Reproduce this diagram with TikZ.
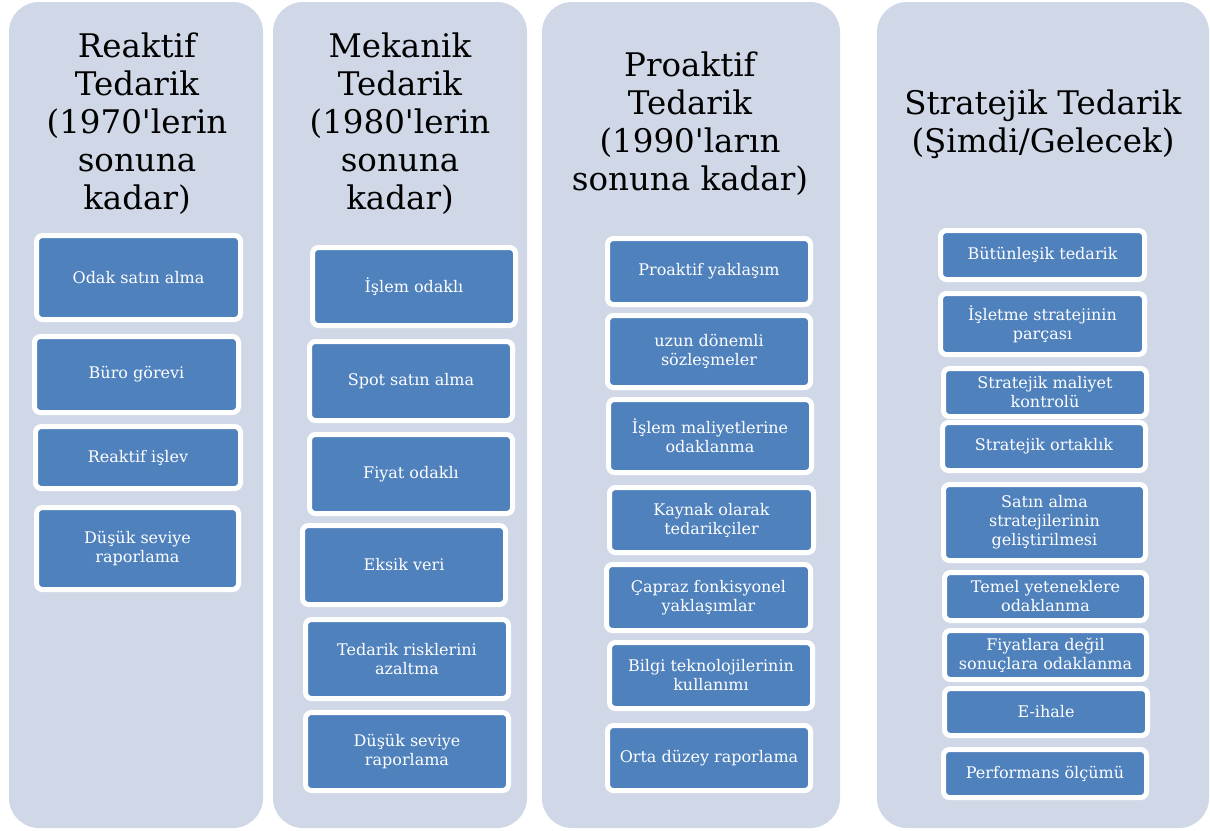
\documentclass[tikz,border=0pt]{standalone}
\usepackage{fontspec}
\setmainfont{DejaVu Serif}
\definecolor{colbg}{HTML}{D0D8E8}
\definecolor{itemblue}{HTML}{4F81BD}
\begin{document}
\begin{tikzpicture}[x=1pt, y=-1pt,
    column/.style={fill=colbg, rounded corners=30pt},
    heading/.style={align=center, text=black, font=\fontsize{32.5}{38}\selectfont},
    item/.style={fill=itemblue, draw=white, line width=5pt, rounded corners=6pt,
        inner sep=0pt, align=center, text=white, font=\fontsize{16}{19}\selectfont}]
    \useasboundingbox (0,0) rectangle (1210,830);
    % background columns
    \fill[column] (9,2) rectangle (263,828);
    \fill[column] (273,2) rectangle (527,828);
    \fill[column] (542,2) rectangle (840,828);
    \fill[column] (877,2) rectangle (1209,828);
    % headings
    \node at (137,124) (h1) [heading] {Reaktif\\Tedarik\\(1970\textquotesingle lerin\\sonuna\\kadar)};
    \node at (400,124) (h2) [heading] {Mekanik\\Tedarik\\(1980\textquotesingle lerin\\sonuna\\kadar)};
    \node at (690,124) (h3) [heading] {Proaktif\\Tedarik\\(1990\textquotesingle ların\\sonuna kadar)};
    \node at (1043,124) (h4) [heading] {Stratejik Tedarik\\(Şimdi/Gelecek)};
    % first column
    \node at (138.5,277.5) (a1) [item, minimum width=204pt, minimum height=84pt] {Odak satın alma};
    \node at (136.5,374.5) (a2) [item, minimum width=204pt, minimum height=76pt] {Büro görevi};
    \node at (138,457.5) (a3) [item, minimum width=205pt, minimum height=62pt] {Reaktif işlev};
    \node at (137.5,548.5) (a4) [item, minimum width=202pt, minimum height=82pt] {Düşük seviye\\raporlama};
    % second column
    \node at (414,286.5) (b1) [item, minimum width=203pt, minimum height=78pt] {İşlem odaklı};
    \node at (411,381) (b2) [item, minimum width=203pt, minimum height=79pt] {Spot satın alma};
    \node at (411,474) (b3) [item, minimum width=203pt, minimum height=79pt] {Fiyat odaklı};
    \node at (404,565) (b4) [item, minimum width=203pt, minimum height=79pt] {Eksik veri};
    \node at (407,659) (b5) [item, minimum width=203pt, minimum height=79pt] {Tedarik risklerini\\azaltma};
    \node at (407,751.5) (b6) [item, minimum width=203pt, minimum height=78pt] {Düşük seviye\\raporlama};
    % third column
    \node at (709,271.5) (c1) [item, minimum width=203pt, minimum height=66pt] {Proaktif yaklaşım};
    \node at (709,351.5) (c2) [item, minimum width=203pt, minimum height=72pt] {uzun dönemli\\sözleşmeler};
    \node at (710,436) (c3) [item, minimum width=203pt, minimum height=73pt] {İşlem maliyetlerine\\odaklanma};
    \node at (711.5,520) (c4) [item, minimum width=204pt, minimum height=65pt] {Kaynak olarak\\tedarikçiler};
    \node at (708.5,597.5) (c5) [item, minimum width=204pt, minimum height=66pt] {Çapraz fonkisyonel\\yaklaşımlar};
    \node at (711,675.5) (c6) [item, minimum width=203pt, minimum height=66pt] {Bilgi teknolojilerinin\\kullanımı};
    \node at (709,758) (c7) [item, minimum width=203pt, minimum height=65pt] {Orta düzey raporlama};
    % fourth column
    \node at (1042.5,255) (d1) [item, minimum width=204pt, minimum height=49pt] {Bütünleşik tedarik};
    \node at (1042.5,324) (d2) [item, minimum width=204pt, minimum height=61pt] {İşletme stratejinin\\parçası};
    \node at (1045,392.5) (d3) [item, minimum width=203pt, minimum height=48pt] {Stratejik maliyet\\kontrolü};
    \node at (1044,446.5) (d4) [item, minimum width=203pt, minimum height=48pt] {Stratejik ortaklık};
    \node at (1044.5,522.5) (d5) [item, minimum width=202pt, minimum height=76pt] {Satın alma\\stratejilerinin\\geliştirilmesi};
    \node at (1045.5,596.5) (d6) [item, minimum width=202pt, minimum height=48pt] {Temel yeteneklere\\odaklanma};
    \node at (1045.5,655) (d7) [item, minimum width=202pt, minimum height=49pt] {Fiyatlara değil\\sonuçlara odaklanma};
    \node at (1046,712) (d8) [item, minimum width=203pt, minimum height=47pt] {E-ihale};
    \node at (1045,773.5) (d9) [item, minimum width=203pt, minimum height=48pt] {Performans ölçümü};
\end{tikzpicture}
\end{document}
